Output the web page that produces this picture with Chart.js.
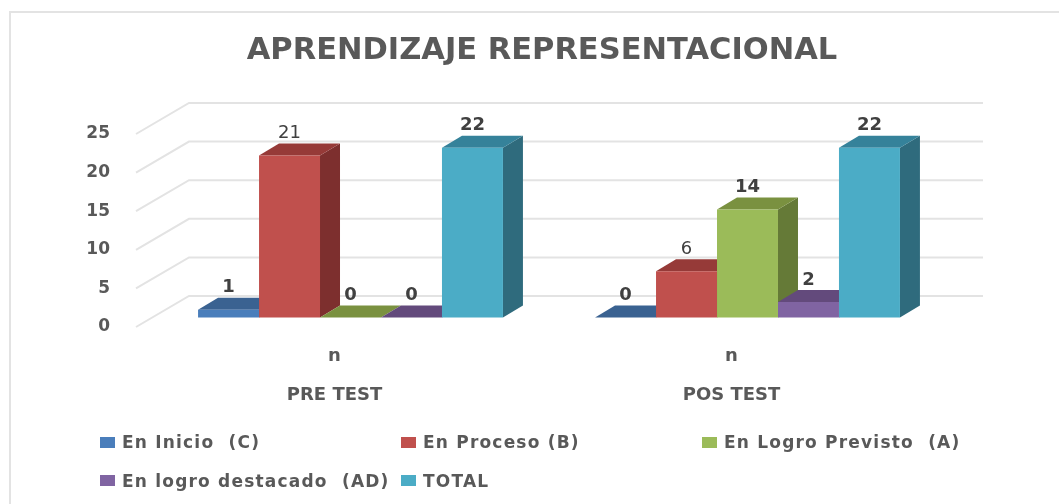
<!DOCTYPE html>
<html lang="es">
<head>
<meta charset="utf-8">
<title>Aprendizaje representacional</title>
<script src="https://cdn.jsdelivr.net/npm/chart.js"></script>
<style>
  html, body { margin: 0; background: #fff; overflow: hidden; }
  #frame { position: absolute; left: 9px; top: 11px; right: 0; bottom: 0; border-left: 2px solid #e3e3e3; border-top: 2px solid #e3e3e3; }
  #chart { position: absolute; left: 25px; top: 0; }
  #legend { position: absolute; left: 100px; top: 423px; display: grid; grid-template-columns: 301px 301px auto; grid-auto-rows: 38.5px; align-items: center;
            font: bold 17px "DejaVu Sans", sans-serif; letter-spacing: 1.2px; color: #595959; white-space: pre; }
  #legend span.item { display: flex; align-items: center; }
  #legend i { width: 15px; height: 11px; margin-right: 7px; }
</style>
</head>
<body>
<div id="frame"></div>
<canvas id="chart" width="1034" height="504"></canvas>
<div id="legend"></div>
<script>
const titleText = 'APRENDIZAJE REPRESENTACIONAL';
const categories = [['n', '', 'PRE TEST'], ['n', '', 'POS TEST']];
const enInicio = [1, 0];
const enProceso = [21, 6];
const enLogroPrevisto = [0, 14];
const enLogroDestacado = [0, 2];
const total = [22, 22];

// profundidad de las barras y de las paredes 3D
const BAR_DX = 20, BAR_DY = 12;
const WALL_FRONT = -16, WALL_BACK = 37, WALL_DY = 31;

function serie(label, data, color, top, side, weight) {
    return {
        label: label, data: data, yAxisID: 'yBars',
        backgroundColor: color, topColor: top, sideColor: side, labelWeight: weight,
        borderWidth: 0, barPercentage: 1, categoryPercentage: 0.768
    };
}

function poly(ctx, color, pts) {
    ctx.fillStyle = color;
    ctx.beginPath();
    pts.forEach((p, i) => i ? ctx.lineTo(p[0], p[1]) : ctx.moveTo(p[0], p[1]));
    ctx.closePath();
    ctx.fill();
}

const walls3d = {
    id: 'walls3d',
    beforeDatasetsDraw(chart) {
        const ctx = chart.ctx, y = chart.scales.y, area = chart.chartArea;
        ctx.save();
        ctx.strokeStyle = '#e3e3e3';
        ctx.lineWidth = 2;
        y.ticks.forEach(t => {
            const py = y.getPixelForValue(t.value);
            ctx.beginPath();
            ctx.moveTo(area.left + WALL_FRONT, py);
            ctx.lineTo(area.left + WALL_BACK, py - WALL_DY);
            ctx.lineTo(area.right + WALL_BACK, py - WALL_DY);
            ctx.stroke();
        });
        // caras superior y lateral, de izquierda a derecha
        categories.forEach((c, j) => {
            chart.data.datasets.forEach((ds, i) => {
                const bar = chart.getDatasetMeta(i).data[j];
                const l = bar.x - bar.width / 2, r = bar.x + bar.width / 2;
                if (bar.base - bar.y > 0.5) {
                    poly(ctx, ds.sideColor, [[r, bar.y], [r + BAR_DX, bar.y - BAR_DY], [r + BAR_DX, bar.base - BAR_DY], [r, bar.base]]);
                }
                poly(ctx, ds.topColor, [[l, bar.y], [r, bar.y], [r + BAR_DX, bar.y - BAR_DY], [l + BAR_DX, bar.y - BAR_DY]]);
            });
        });
        ctx.restore();
    },
    afterDatasetsDraw(chart) {
        const ctx = chart.ctx;
        ctx.save();
        ctx.fillStyle = '#404040';
        ctx.textAlign = 'center';
        ctx.textBaseline = 'middle';
        chart.data.datasets.forEach((ds, i) => {
            ctx.font = ds.labelWeight + ' 18px "DejaVu Sans", sans-serif';
            chart.getDatasetMeta(i).data.forEach((bar, j) => {
                ctx.fillText(ds.data[j], bar.x, bar.y - 22);
            });
        });
        ctx.restore();
    }
};

const chart = new Chart(document.getElementById('chart'), {
    type: 'bar',
    data: {
        labels: categories,
        datasets: [
            serie('En Inicio  (C)', enInicio, '#4a7ebb', '#3a6291', '#2f5178', 'bold'),
            serie('En Proceso (B)', enProceso, '#c0504d', '#963a38', '#7d2f2e', 'normal'),
            serie('En Logro Previsto  (A)', enLogroPrevisto, '#9bbb59', '#7a9140', '#657a37', 'bold'),
            serie('En logro destacado  (AD)', enLogroDestacado, '#8064a2', '#634a7c', '#523d68', 'bold'),
            serie('TOTAL', total, '#4bacc6', '#35829a', '#2f6b7d', 'bold')
        ]
    },
    options: {
        responsive: false,
        animation: false,
        plugins: {
            legend: { display: false },
            tooltip: { enabled: false },
            title: {
                display: true,
                text: titleText,
                color: '#595959',
                font: { family: "'DejaVu Sans', sans-serif", size: 30.5, weight: 'bold', lineHeight: 1.2 },
                padding: { top: 32.5, bottom: 64.9 }
            }
        },
        scales: {
            x: {
                grid: { display: false, drawTicks: false },
                border: { display: false },
                afterFit(s) { s.height = 177; },
                ticks: {
                    autoSkip: false, maxRotation: 0, padding: 20, labelOffset: -16, color: '#595959',
                    font: { family: "'DejaVu Sans', sans-serif", size: 18, weight: 'bold', lineHeight: 1.083 }
                }
            },
            y: {
                min: 0, max: 25,
                grid: { display: false, drawTicks: false },
                border: { display: false },
                afterFit(s) { s.width = 127; },
                ticks: {
                    stepSize: 5, padding: 42, color: '#595959',
                    font: { family: "'DejaVu Sans', sans-serif", size: 17, weight: 'bold' }
                }
            },
            // escala de las barras: mismo paso, desplazada al plano medio; su hueco a la derecha deja el titulo centrado
            yBars: {
                position: 'right', min: -1.23, max: 23.77,
                grid: { display: false, drawTicks: false },
                border: { display: false },
                ticks: { display: false },
                afterFit(s) { s.width = 113; }
            }
        }
    },
    plugins: [walls3d]
});

const legend = document.getElementById('legend');
chart.data.datasets.forEach(ds => {
    const item = document.createElement('span');
    item.className = 'item';
    const box = document.createElement('i');
    box.style.background = ds.backgroundColor;
    item.appendChild(box);
    item.appendChild(document.createTextNode(ds.label));
    legend.appendChild(item);
});
</script>
</body>
</html>
